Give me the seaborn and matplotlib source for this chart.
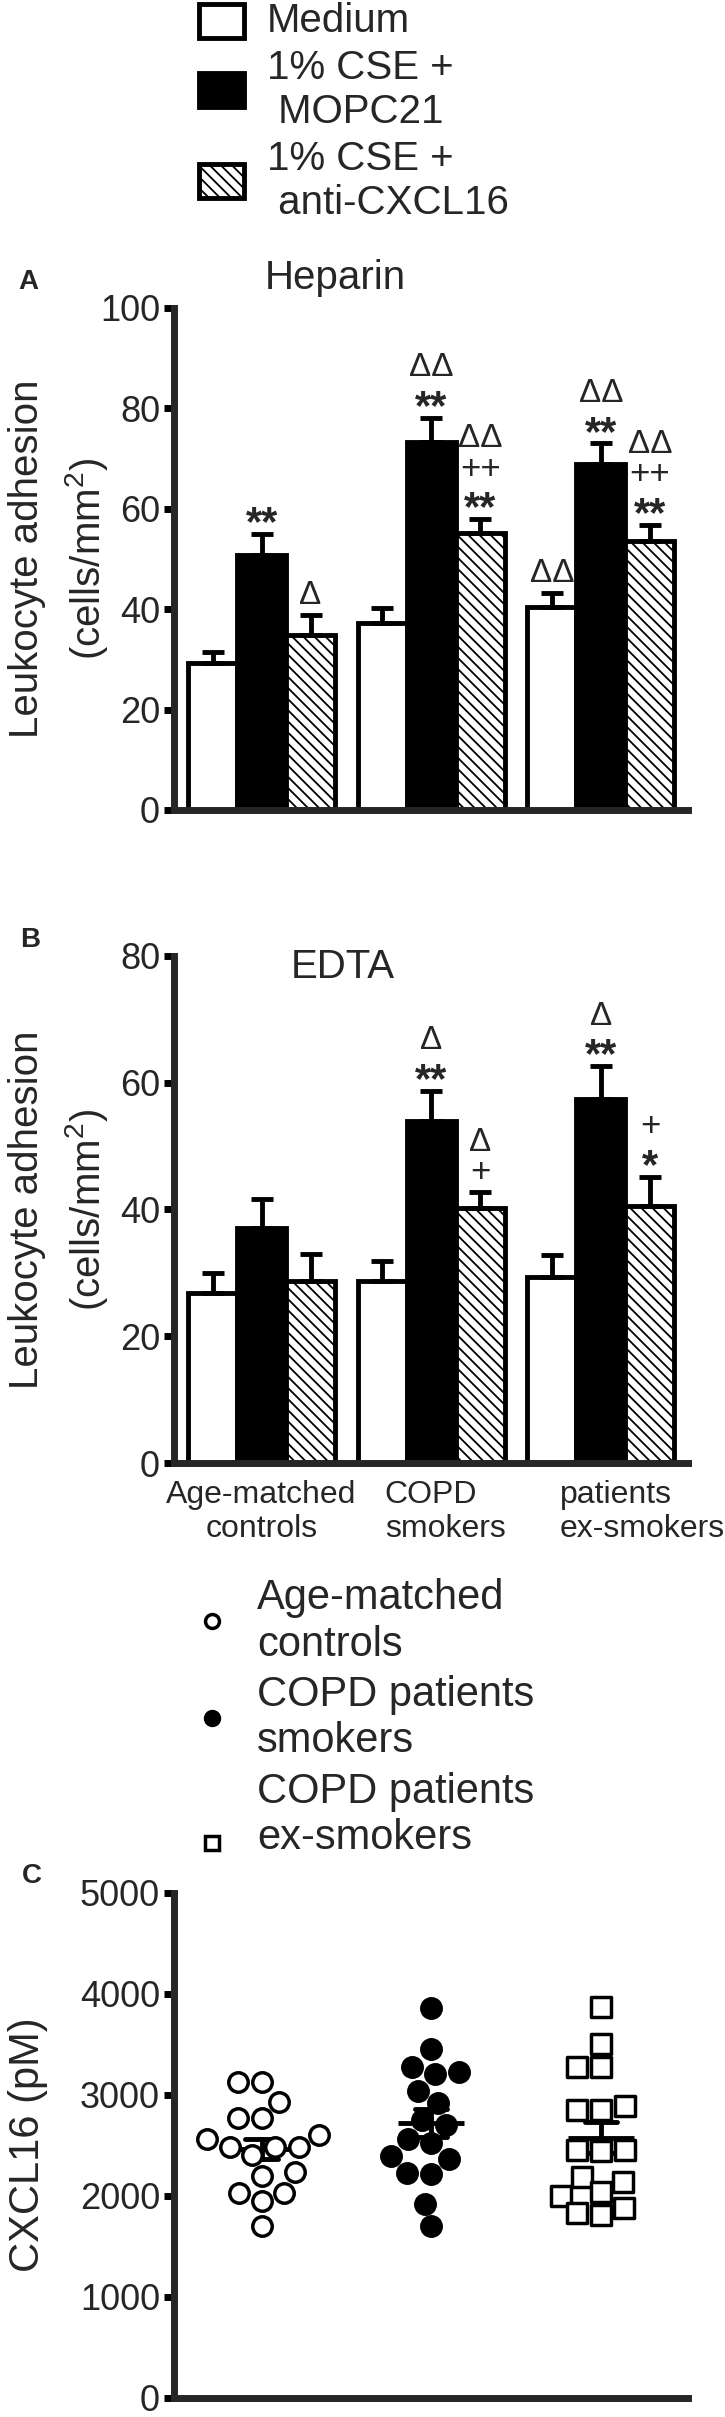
import numpy as np
import pandas as pd
import matplotlib
matplotlib.use('Agg')
import matplotlib.pyplot as plt
import matplotlib.transforms as mtransforms
from matplotlib.patches import Patch
from matplotlib.lines import Line2D
import seaborn as sns

# ---- data ----
groups = ['Age-matched\ncontrols', 'COPD\nsmokers', 'patients\nex-smokers']
treatments = ['Medium', '1% CSE +\n MOPC21', '1% CSE +\n anti-CXCL16']

heparin_mean = {
    'Medium': [29.2, 37.2, 40.4],
    '1% CSE +\n MOPC21': [50.8, 73.2, 68.9],
    '1% CSE +\n anti-CXCL16': [34.9, 55.1, 53.5],
}
heparin_sem = {
    'Medium': [2.2, 3.0, 2.8],
    '1% CSE +\n MOPC21': [4.2, 4.9, 4.1],
    '1% CSE +\n anti-CXCL16': [4.0, 2.8, 3.3],
}
heparin_marks = {
    'Medium': ['', '', 'ΔΔ'],
    '1% CSE +\n MOPC21': ['**', 'ΔΔ\n**', 'ΔΔ\n**'],
    '1% CSE +\n anti-CXCL16': ['Δ', 'ΔΔ\n++\n**', 'ΔΔ\n++\n**'],
}

edta_mean = {
    'Medium': [26.8, 28.7, 29.4],
    '1% CSE +\n MOPC21': [37.1, 54.0, 57.5],
    '1% CSE +\n anti-CXCL16': [28.7, 40.2, 40.5],
}
edta_sem = {
    'Medium': [3.2, 3.1, 3.4],
    '1% CSE +\n MOPC21': [4.5, 4.7, 5.1],
    '1% CSE +\n anti-CXCL16': [4.2, 2.5, 4.7],
}
edta_marks = {
    'Medium': ['', '', ''],
    '1% CSE +\n MOPC21': ['', 'Δ\n**', 'Δ\n**'],
    '1% CSE +\n anti-CXCL16': ['', 'Δ\n+', '+\n*'],
}

cxcl_groups = ['Age-matched\ncontrols', 'COPD patients\nsmokers', 'COPD patients\nex-smokers']
cxcl_controls = [3120, 3120, 2930, 2770, 2770, 2600, 2560, 2480, 2480, 2480, 2400,
                 2230, 2190, 2030, 2030, 1950, 1700]
cxcl_smokers = [3860, 3450, 3270, 3220, 3200, 3040, 2920, 2750, 2700, 2560, 2520,
                2390, 2360, 2220, 2210, 1920, 1700]
cxcl_exsmokers = [3870, 3500, 3270, 3270, 2890, 2850, 2850, 2450, 2450, 2440, 2180,
                  2130, 2040, 2000, 1880, 1830, 1810]

# ---- style ----
sns.set_theme(style='ticks')
plt.rcParams['font.family'] = ['Liberation Sans', 'DejaVu Sans']
plt.rcParams['mathtext.fontset'] = 'custom'
plt.rcParams['mathtext.rm'] = 'Liberation Sans'
plt.rcParams['mathtext.it'] = 'Liberation Sans:italic'
plt.rcParams['hatch.linewidth'] = 1.3
plt.rcParams['hatch.color'] = 'black'

SPINE = 5
HATCH = '\\\\\\'
palette = {'Medium': 'white', '1% CSE +\n MOPC21': 'black', '1% CSE +\n anti-CXCL16': 'white'}

fig = plt.figure(figsize=(7.25, 24.17), dpi=100)
ax_a = fig.add_axes([0.240, 0.6649, 0.709, 0.2077])
ax_b = fig.add_axes([0.240, 0.3947, 0.709, 0.2098])
ax_c = fig.add_axes([0.240, 0.0080, 0.709, 0.2090])


def style_axis(ax):
    sns.despine(ax=ax)
    for sp in ['left', 'bottom']:
        ax.spines[sp].set_linewidth(SPINE)
    ax.tick_params(axis='y', length=7, width=SPINE, labelsize=26, pad=3, color='black')
    ax.tick_params(axis='x', length=0)
    ax.set_xlim(-0.516, 2.513)
    ax.set_xlabel('')


def stack_marks(ax, x, y, mark):
    # significance symbols stacked above the error bar, bottom line first
    for i, line in enumerate(mark.split('\n')[::-1]):
        star = '*' in line
        plus = '+' in line
        off = 14 + i * 22 - (7 if star else 0)
        size = 30 if star else (25 if plus else 24)
        ax.annotate(line, (x, y), xytext=(0, off), textcoords='offset points',
                    ha='center', va='center', fontsize=size,
                    fontweight='bold' if star else 'normal')


def bar_panel(ax, means, sems, marks, ymax):
    rows = []
    for t in treatments:
        for g, m in zip(groups, means[t]):
            rows.append({'group': g, 'treatment': t, 'mean': m})
    df = pd.DataFrame(rows)
    sns.barplot(data=df, x='group', y='mean', hue='treatment', order=groups,
                hue_order=treatments, palette=palette, saturation=1,
                edgecolor='black', linewidth=3.5, width=0.866, gap=0,
                errorbar=None, legend=False, ax=ax)
    for cont, t in zip(ax.containers, treatments):
        for bar, s, mk in zip(cont, sems[t], marks[t]):
            if t == '1% CSE +\n anti-CXCL16':
                bar.set_hatch(HATCH)
            x = bar.get_x() + bar.get_width() / 2
            h = bar.get_height()
            ax.errorbar(x, h, yerr=[[0], [s]], fmt='none', ecolor='black',
                        elinewidth=3.5, capsize=8, capthick=3.5, zorder=1)
            if mk:
                stack_marks(ax, x, h + s, mk)
    ax.set_ylim(0, ymax)
    ax.set_yticks(np.arange(0, ymax + 1, 20))
    ax.set_ylabel('Leukocyte adhesion\n(cells/mm$^2$)', fontsize=29, linespacing=1.45)
    ax.yaxis.set_label_coords(-0.125, 0.5)
    style_axis(ax)


bar_panel(ax_a, heparin_mean, heparin_sem, heparin_marks, 100)
ax_a.set_xticklabels([])
ax_a.text(0.177, 1.06, 'Heparin', transform=ax_a.transAxes, fontsize=29,
          ha='left', va='center')

bar_panel(ax_b, edta_mean, edta_sem, edta_marks, 80)
ax_b.set_xticks(range(len(groups)))
ax_b.set_xticklabels(groups, fontsize=23)
ax_b.tick_params(axis='x', pad=12)
shifts = [0, 10, 30]
for lab, dx in zip(ax_b.get_xticklabels(), shifts):
    if dx:
        lab.set_multialignment('left')
    lab.set_transform(lab.get_transform() +
                      mtransforms.ScaledTranslation(dx / 72, 0, fig.dpi_scale_trans))
ax_b.text(0.228, 0.978, 'EDTA', transform=ax_b.transAxes, fontsize=29,
          ha='left', va='center')

# ---- panel C ----
cxcl = pd.DataFrame({
    'group': [cxcl_groups[0]] * len(cxcl_controls) + [cxcl_groups[1]] * len(cxcl_smokers)
             + [cxcl_groups[2]] * len(cxcl_exsmokers),
    'value': cxcl_controls + cxcl_smokers + cxcl_exsmokers,
})
marker_style = [('o', 'white'), ('o', 'black'), ('s', 'white')]
for g, (mk, fc) in zip(cxcl_groups, marker_style):
    sns.swarmplot(data=cxcl[cxcl.group == g], x='group', y='value', order=cxcl_groups,
                  marker=mk, color=fc, edgecolor='black', linewidth=2.5, size=14,
                  ax=ax_c)
sns.pointplot(data=cxcl, x='group', y='value', order=cxcl_groups, errorbar='se',
              color='black', markers='_', markersize=47, markeredgewidth=3.5,
              linestyle='none', capsize=0.19, err_kws={'linewidth': 3.5}, ax=ax_c)
ax_c.set_ylim(0, 5000)
ax_c.set_yticks(np.arange(0, 5001, 1000))
ax_c.set_xticklabels([])
ax_c.set_ylabel('CXCL16 (pM)', fontsize=30)
ax_c.yaxis.set_label_coords(-0.245, 0.5)
style_axis(ax_c)

# ---- legends ----
leg_top = fig.legend(handles=[
    Patch(facecolor=palette[t], edgecolor='black', linewidth=3.5,
          hatch=HATCH if i == 2 else None, label=t)
    for i, t in enumerate(treatments)],
    loc='upper left', bbox_to_anchor=(0.2745, 0.999), frameon=False, fontsize=29,
    handlelength=1.12, handleheight=0.92, handletextpad=0.57, labelspacing=0.22,
    borderpad=0, borderaxespad=0)
for col in leg_top._legend_handle_box.get_children():
    for item in col.get_children():
        item.align = 'center'

leg_c = fig.legend(handles=[
    Line2D([], [], ls='none', marker=mk, markerfacecolor=fc, markeredgecolor='black',
           markeredgewidth=2.5, markersize=10, label=g)
    for g, (mk, fc) in zip(cxcl_groups, marker_style)],
    loc='upper left', bbox_to_anchor=(0.2634, 0.347), frameon=False, fontsize=30,
    handlelength=1.0, handletextpad=0.58, labelspacing=0.25,
    borderpad=0, borderaxespad=0)
for col in leg_c._legend_handle_box.get_children():
    items = col.get_children()
    for item in items[:2]:
        item.align = 'center'
    items[2].align = 'bottom'

# panel letters
fig.text(0.025, 0.8833, 'A', fontsize=20, fontweight='bold', va='center')
fig.text(0.028, 0.6111, 'B', fontsize=20, fontweight='bold', va='center')
fig.text(0.030, 0.2238, 'C', fontsize=20, fontweight='bold', va='center')

fig.savefig('out.png', dpi=100)
